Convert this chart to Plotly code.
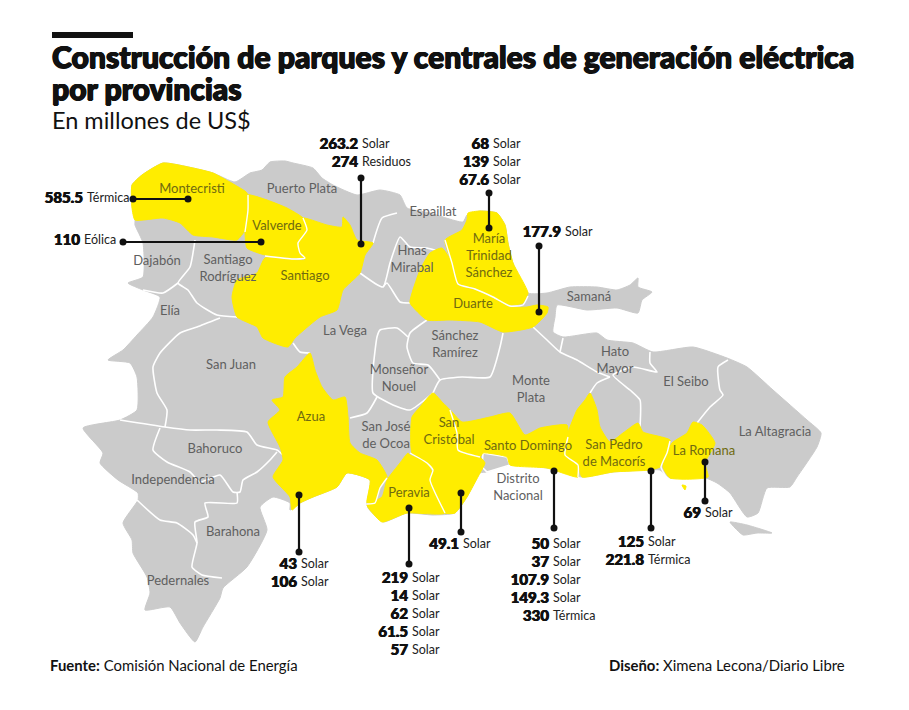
import plotly.graph_objects as go

GRAY = "#cbcbcb"
YELLOW = "#ffed00"
INK = "#111111"
FONT = "Lato"

# map outlines
COAST = [(132,185),(142,175),(163,163),(193,168),(213,173),(235,182),(250,173),(262,170),(270,162),(285,161),(293,163),(313,168),(322,178),(333,185),(357,195),(380,190),(400,195),(407,208),(430,213),(463,222),(467,215),(480,211),(497,213),(505,225),(508,243),(513,263),(528,293),(547,293),(570,287),(597,287),(617,290),(630,285),(638,278),(638,287),(652,292),(642,300),(638,313),(617,308),(587,310),(557,305),(555,317),(553,332),(563,337),(597,333),(607,340),(633,343),(653,352),(693,347),(727,358),(747,367),(773,390),(807,420),(821,433),(817,447),(797,477),(790,487),(767,488),(758,513),(747,517),(730,493),(717,483),(703,477),(670,478),(660,470),(647,470),(613,472),(582,477),(547,468),(510,465),(487,472),(480,473),(467,497),(455,513),(433,515),(407,513),(383,522),(368,508),(367,503),(370,480),(347,473),(337,487),(313,497),(300,503),(290,510),(290,503),(273,497),(260,507),(267,530),(247,567),(223,588),(220,598),(203,627),(195,642),(180,623),(170,607),(145,610),(150,593),(147,577),(133,553),(132,540),(123,523),(138,500),(138,493),(118,480),(100,463),(103,453),(83,428),(120,420),(137,410),(137,377),(130,363),(108,360),(123,350),(137,335),(153,317),(160,297),(143,290),(128,283),(143,277),(143,243),(135,225),(135,220),(132,205)]
SAONA = [(730,522),(747,525),(772,533),(757,533),(743,535),(735,528)]

BORDERS = [
    [(397,213),(382,218),(373,243)],
    [(195,240),(190,267),(178,283),(188,290),(197,303),(217,315),(237,317)],
    [(178,283),(163,293),(143,290)],
    [(220,318),(197,327),(180,333),(160,353),(153,367),(157,393),(167,410),(165,427)],
    [(120,420),(165,427),(190,430),(217,430),(247,432),(257,445),(277,450),(283,455)],
    [(160,428),(153,450),(167,462),(190,472),(200,482),(220,475),(233,492),(240,492),(243,480),(257,472),(270,460),(277,452)],
    [(237,492),(237,503),(205,503),(208,517),(195,522),(197,543),(192,567),(202,575),(222,578)],
    [(137,500),(160,520),(177,523),(193,535),(197,543)],
    [(427,320),(410,333),(407,347),(413,363),(428,365),(440,380)],
    [(503,333),(500,347),(490,377),(462,377),(440,380),(433,393)],
    [(408,337),(397,328),(380,330),(377,337),(373,370),(373,393),(393,405),(410,410),(433,393)],
    [(377,397),(367,413),(350,418)],
    [(293,343),(300,352),(310,353)],
    [(360,273),(383,287),(390,263),(400,237),(410,247),(427,248),(442,252)],
    [(383,287),(387,283),(400,302),(410,303)],
    [(533,327),(547,340),(560,352),(577,360),(597,372),(610,377)],
    [(563,338),(560,352)],
    [(650,352),(650,363),(657,372),(633,367),(613,375),(630,390),(640,400),(640,427)],
    [(610,377),(597,383),(590,393)],
    [(728,360),(718,367),(720,390),(723,395),(710,407),(697,423)],
]
DISTRITO = [(483,453),(507,457),(510,465),(487,472),(482,467)]

MONTECRISTI = [(132,185),(142,175),(163,163),(193,168),(213,173),(235,185),(247,193),(247,210),(245,230),(237,240),(213,237),(193,235),(180,223),(163,218),(135,220),(132,208)]
VALVERDE = [(248,195),(267,200),(287,208),(303,218),(307,230),(298,243),(300,253),(305,258),(293,258),(265,255),(247,248),(245,230),(248,210)]
SANTIAGO = [(303,218),(327,225),(342,227),(343,217),(350,225),(357,240),(373,243),(365,255),(360,273),(343,290),(337,310),(320,317),(295,338),(288,347),(263,338),(257,327),(237,317),(232,297),(237,280),(257,273),(265,258),(293,260),(305,260),(300,253),(298,243),(307,230)]
MTS = [(468,213),(480,211),(497,213),(505,225),(508,243),(513,263),(528,293),(523,303),(510,305),(493,297),(475,288),(458,283),(452,263),(445,240),(462,230),(467,220)]
DUARTE = [(442,248),(430,253),(420,270),(412,293),(410,303),(427,320),(450,320),(480,322),(503,332),(533,327),(547,313),(548,307),(537,305),(527,307),(510,307),(493,298),(475,290),(458,285),(452,263)]
AZUA = [(310,353),(315,370),(322,387),(333,400),(345,397),(348,417),(350,443),(360,453),(377,460),(387,477),(380,488),(375,503),(367,503),(370,480),(347,473),(337,487),(313,497),(300,503),(292,510),(290,497),(273,477),(283,460),(280,447),(268,422),(280,410),(272,400),(283,397),(285,377),(297,367)]
PERAVIA = [(408,453),(400,463),(387,480),(382,497),(367,505),(370,510),(382,522),(407,513),(445,513),(435,480),(427,463),(410,455)]
SAN_CRISTOBAL = [(433,393),(420,407),(412,417),(412,453),(433,470),(430,480),(445,513),(455,513),(467,497),(480,473),(485,463),(480,457),(458,450),(457,433),(450,410),(443,403)]
SANTO_DOMINGO = [(450,410),(462,422),(490,417),(510,413),(525,435),(540,428),(567,425),(568,437),(565,455),(578,465),(578,477),(547,468),(510,465),(507,457),(483,453),(480,457),(458,450),(457,433)]
SAN_PEDRO = [(590,393),(597,410),(600,427),(610,442),(623,433),(638,423),(643,432),(670,440),(667,453),(660,467),(650,470),(613,472),(582,477),(578,465),(565,455),(568,433),(577,410),(585,400)]
LA_ROMANA = [(693,422),(702,425),(715,443),(705,463),(708,477),(670,478),(663,467),(672,443),(687,433)]
CATALINA = [(682,485),(686,486),(685,490)]

YELLOW_SHAPES = [MONTECRISTI, VALVERDE, SANTIAGO, MTS, DUARTE, AZUA, PERAVIA, SAN_CRISTOBAL, SANTO_DOMINGO, SAN_PEDRO, LA_ROMANA, CATALINA]

# white lines where two yellow provinces meet
YELLOW_BORDERS = [
    [(248,195),(248,210),(245,232)],
    [(303,218),(307,230),(298,243),(300,253),(305,258),(293,259),(265,256)],
    [(445,240),(452,263),(458,284),(475,289),(493,297),(510,306),(523,305),(528,296)],
    [(387,478),(380,488),(375,503),(367,504)],
    [(410,453),(427,463),(433,470),(430,480),(445,513)],
    [(450,410),(457,433),(458,450),(480,457)],
    [(568,437),(565,455),(578,465),(578,477)],
    [(670,441),(667,453),(661,467),(667,478)],
]

# province names
GRAY_NAMES = ["Puerto Plata", "Espaillat", "Hnas<br>Mirabal", "Dajabón", "Santiago<br>Rodríguez", "Elía", "La Vega", "Samaná", "Sánchez<br>Ramírez", "Monseñor<br>Nouel", "San Juan", "Hato<br>Mayor", "El Seibo", "Monte<br>Plata", "La Altagracia", "San José<br>de Ocoa", "Bahoruco", "Independencia", "Barahona", "Pedernales", "Distrito<br>Nacional"]
GRAY_NAME_X = [302, 433, 412, 157, 228, 170, 345, 589, 455, 399, 231, 615, 686, 531, 775, 386, 215, 173, 233, 178, 518]
GRAY_NAME_Y = [190, 213, 260, 262, 269, 312, 332, 298, 345, 379, 366, 361, 383, 390, 433, 436, 450, 481, 533, 582, 488]
YELLOW_NAMES = ["Montecristi", "Valverde", "Santiago", "María<br>Trinidad<br>Sánchez", "Duarte", "Azua", "Peravia", "San<br>Cristóbal", "Santo Domingo", "San Pedro<br>de Macorís", "La Romana"]
YELLOW_NAME_X = [192, 277, 305, 489, 473, 311, 409, 449, 528, 614, 704]
YELLOW_NAME_Y = [190, 227, 277, 257, 305, 418, 494, 432, 447, 454, 452]

# callouts: investment and type per province
MONTECRISTI_VALUES = ["585.5"]
MONTECRISTI_TYPES = ["Térmica"]
VALVERDE_VALUES = ["110"]
VALVERDE_TYPES = ["Eólica"]
SANTIAGO_VALUES = ["263.2", "274"]
SANTIAGO_TYPES = ["Solar", "Residuos"]
MTS_VALUES = ["68", "139", "67.6"]
MTS_TYPES = ["Solar", "Solar", "Solar"]
DUARTE_VALUES = ["177.9"]
DUARTE_TYPES = ["Solar"]
AZUA_VALUES = ["43", "106"]
AZUA_TYPES = ["Solar", "Solar"]
PERAVIA_VALUES = ["219", "14", "62", "61.5", "57"]
PERAVIA_TYPES = ["Solar", "Solar", "Solar", "Solar", "Solar"]
CRISTOBAL_VALUES = ["49.1"]
CRISTOBAL_TYPES = ["Solar"]
DOMINGO_VALUES = ["50", "37", "107.9", "149.3", "330"]
DOMINGO_TYPES = ["Solar", "Solar", "Solar", "Solar", "Térmica"]
PEDRO_VALUES = ["125", "221.8"]
PEDRO_TYPES = ["Solar", "Térmica"]
ROMANA_VALUES = ["69"]
ROMANA_TYPES = ["Solar"]

# values, types, leader from, leader to, column x, first row y
CALLOUTS = [
    (MONTECRISTI_VALUES, MONTECRISTI_TYPES, (133,199), (188,199), 84, 199),
    (VALVERDE_VALUES, VALVERDE_TYPES, (123,242), (261,242), 81, 241),
    (SANTIAGO_VALUES, SANTIAGO_TYPES, (361,178), (361,244), 359, 145),
    (MTS_VALUES, MTS_TYPES, (489,193), (489,228), 490, 145),
    (DUARTE_VALUES, DUARTE_TYPES, (539,246), (539,312), 562, 233),
    (AZUA_VALUES, AZUA_TYPES, (299,495), (299,552), 298, 565),
    (PERAVIA_VALUES, PERAVIA_TYPES, (409,508), (409,564), 409, 579),
    (CRISTOBAL_VALUES, CRISTOBAL_TYPES, (461,493), (461,532), 460, 545),
    (DOMINGO_VALUES, DOMINGO_TYPES, (554,471), (554,528), 550, 545),
    (PEDRO_VALUES, PEDRO_TYPES, (651,471), (651,528), 645, 543),
    (ROMANA_VALUES, ROMANA_TYPES, (705,462), (705,501), 702, 514),
]
ROW = 18

# Lato stops at bold here, the shadow fattens it to the black weight of the original
FAT_TITLE = "0.7px 0 0 #111111, -0.7px 0 0 #111111, 0 0.5px 0 #111111, 0 -0.5px 0 #111111"
FAT_NUMBER = "0.4px 0 0 #111111, -0.4px 0 0 #111111"


def xs(pts):
    return [p[0] for p in pts] + [pts[0][0]]


def ys(pts):
    return [p[1] for p in pts] + [pts[0][1]]


CURVE = dict(shape="spline", smoothing=0.5)

fig = go.Figure()

for shape in [COAST, SAONA]:
    fig.add_trace(go.Scatter(x=xs(shape), y=ys(shape), mode="lines", fill="toself", fillcolor=GRAY, line=dict(color=GRAY, width=1, **CURVE)))
for border in BORDERS:
    fig.add_trace(go.Scatter(x=[p[0] for p in border], y=[p[1] for p in border], mode="lines", line=dict(color="white", width=1.6, **CURVE)))
fig.add_trace(go.Scatter(x=xs(DISTRITO), y=ys(DISTRITO), mode="lines", fill="toself", fillcolor=GRAY, line=dict(color="white", width=1.6)))
for shape in YELLOW_SHAPES:
    fig.add_trace(go.Scatter(x=xs(shape), y=ys(shape), mode="lines", fill="toself", fillcolor=YELLOW, line=dict(color=YELLOW, width=1, **CURVE)))
for border in YELLOW_BORDERS:
    fig.add_trace(go.Scatter(x=[p[0] for p in border], y=[p[1] for p in border], mode="lines", line=dict(color="white", width=1.4, **CURVE)))

fig.add_trace(go.Scatter(x=GRAY_NAME_X, y=GRAY_NAME_Y, mode="text", text=GRAY_NAMES, textfont=dict(family=FONT, size=13, color="#5f5f5f")))
fig.add_trace(go.Scatter(x=YELLOW_NAME_X, y=YELLOW_NAME_Y, mode="text", text=YELLOW_NAMES, textfont=dict(family=FONT, size=13, color="#6f6a10")))

for values, types, start, end, col, top in CALLOUTS:
    fig.add_trace(go.Scatter(x=[start[0], end[0]], y=[start[1], end[1]], mode="lines+markers",
                             line=dict(color=INK, width=2.2), marker=dict(color=INK, size=7)))
    rows = [top + ROW * i for i in range(len(values))]
    fig.add_trace(go.Scatter(x=[col - 1] * len(values), y=rows, mode="text", text=values, textposition="middle left",
                             textfont=dict(family=FONT, size=15, color=INK, weight=900, shadow=FAT_NUMBER)))
    fig.add_trace(go.Scatter(x=[col + 3] * len(types), y=rows, mode="text", text=types, textposition="middle right",
                             textfont=dict(family=FONT, size=12.5, color="#222222")))

# the page adds 8px round the plot, so the axes start at 8
fig.update_layout(
    width=901, height=702, margin=dict(l=0, r=0, t=0, b=0), showlegend=False,
    plot_bgcolor="white", paper_bgcolor="white", hovermode=False,
    xaxis=dict(range=[8, 909], visible=False, fixedrange=True),
    yaxis=dict(range=[710, 8], visible=False, fixedrange=True),
    shapes=[dict(type="rect", xref="x", yref="y", x0=52, x1=133, y0=32, y1=38, fillcolor=INK, line_width=0)],
)


def note(x, y, text, size, weight=400, shadow="none"):
    fig.add_annotation(x=x, y=y, xref="x", yref="y", text=text, showarrow=False, xanchor="left", yanchor="middle",
                       font=dict(family=FONT, size=size, color=INK, weight=weight, shadow=shadow))


note(50, 56, "Construcción de parques y centrales de generación eléctrica", 30.1, 900, FAT_TITLE)
note(50, 88, "por provincias", 30.1, 900, FAT_TITLE)
note(50, 120, "En millones de US$", 23.5)
note(48, 665, "<b>Fuente:</b> Comisión Nacional de Energía", 14.9)
note(607, 665, "<b>Diseño:</b> Ximena Lecona/Diario Libre", 14.9)

fig.write_html("out.html")
